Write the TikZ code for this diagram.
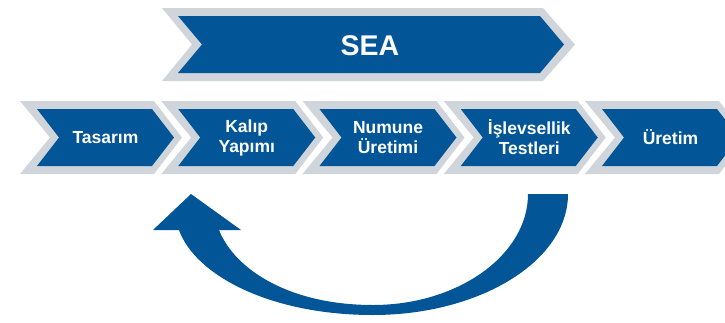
\documentclass[tikz,border=0pt]{standalone}
\usepackage{fontspec}
\setmainfont{Liberation Sans}
\definecolor{seablue}{RGB}{2,86,152}
\definecolor{seagray}{RGB}{208,213,219}

\begin{document}
\begin{tikzpicture}[x=1pt, y=-1pt,
    chevfill/.style={fill=seablue},
    chevrim/.style={fill=seagray},
    chevtext/.style={text=white, align=center,
        font=\bfseries\fontsize{17.5}{20}\selectfont}]

    \useasboundingbox (0,0) rectangle (725,322);
    \clip (0,0) rectangle (725,322);

    % 1. Top chevron
    \fill[chevrim] (162,8) -- (543,8) -- (575,44.5) -- (543,81)
        -- (162,81) -- (192,44.5) -- cycle;
    \fill[chevfill] (178,16) -- (540,16) -- (564,44.5) -- (540,73)
        -- (178,73) -- (202,44.5) -- cycle;
    \node[chevtext, font=\bfseries\fontsize{28.5}{30}\selectfont] (sea) at (370,46) {SEA};

    % 2. Row of process steps
    \foreach \txt [count=\i from 0] in {Tasarım, {Kalıp\\Yapımı}, {Numune\\Üretimi},
                                        {İşlevsellik\\Testleri}, Üretim} {
        \pgfmathsetmacro{\L}{37+141.25*\i}
        \fill[chevrim] (\L-17,101) -- (\L+117,101) -- (\L+145,137.5) -- (\L+117,174)
            -- (\L-17,174) -- (\L+13,137.5) -- cycle;
        \fill[chevfill] (\L,109) -- (\L+115,109) -- (\L+137,137.5) -- (\L+115,166)
            -- (\L,166) -- (\L+22,137.5) -- cycle;
        \node[chevtext] (stage\i) at (\L+68.5,137.5) {\txt};
    }

    % 3. Return arrow from the tests back to the mould
    \fill[seablue] (568,194) .. controls (568,261) and (480,315) .. (373,315)
        .. controls (270,315) and (195,275) .. (179,230)
        -- (153,230) -- (191,194) -- (241,230) -- (219,230)
        .. controls (235,270) and (290,305) .. (373,305)
        .. controls (458,305) and (528,255) .. (528,194) -- cycle;
\end{tikzpicture}
\end{document}
